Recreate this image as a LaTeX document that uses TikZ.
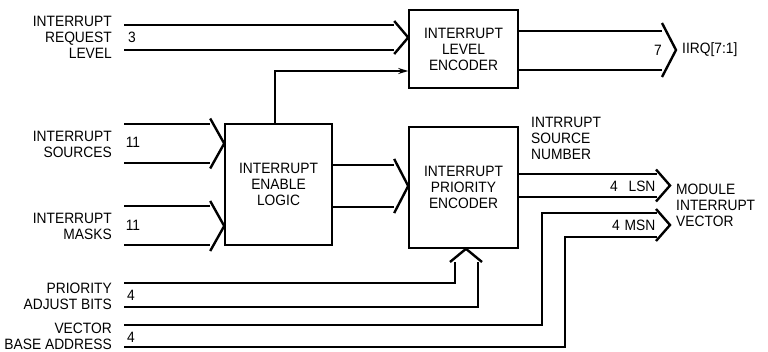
\documentclass[tikz,border=0pt]{standalone}
\usepackage{fontspec}
\setmainfont{Liberation Sans}[FakeStretch=0.92]
\usetikzlibrary{calc,arrows.meta}

\tikzset{
  blk/.style={draw, line width=1.6pt, align=center, inner sep=0pt},
  bus/.style={line width=1.3pt},
  chev/.style={line width=2.4pt, line join=miter},
  lbl/.style={align=right, anchor=east, inner sep=0pt},
  rlbl/.style={align=left, anchor=west, inner sep=0pt},
  pics/busin/.style={code={\draw[chev] (-14,-#1) -- (0,0) -- (-14,#1);}},
}

\begin{document}
\begin{tikzpicture}[x=1pt,y=-1pt,font=\fontsize{15}{16}\selectfont]
  \useasboundingbox (0,0) rectangle (768,351);

  % blocks
  \node[blk, minimum width=109pt, minimum height=78pt] (lvl) at (463.5,49) {INTERRUPT\\LEVEL\\ENCODER};
  \node[blk, minimum width=107pt, minimum height=121pt] (enb) at (278.5,184.5) {INTERRUPT\\ENABLE\\LOGIC};
  \node[blk, minimum width=109pt, minimum height=121pt] (pri) at (463.5,187.5) {INTERRUPT\\PRIORITY\\ENCODER};

  % input names
  \node[lbl] (irl) at (112,37) {INTERRUPT\\REQUEST\\LEVEL};
  \node[lbl] (isrc) at (112,144) {INTERRUPT\\SOURCES};
  \node[lbl] (imsk) at (112,226) {INTERRUPT\\MASKS};
  \node[lbl] (padj) at (112,296) {PRIORITY\\ADJUST BITS};
  \node[lbl] (vba) at (112,336) {VECTOR\\BASE ADDRESS};

  % request level bus
  \draw[bus] (124,25) -- (394,25);
  \draw[bus] (124,50) -- (394,50);
  \pic at (lvl.west |- 0,37.5) {busin=16.5};
  \node (w3) at (132,37) {3};

  % sources and masks
  \draw[bus] (124,124) -- (210,124);
  \draw[bus] (124,163) -- (210,163);
  \pic at (enb.west |- 0,143.5) {busin=25};
  \node (w11a) at (133,142) {11};
  \draw[bus] (124,206) -- (210,206);
  \draw[bus] (124,245) -- (210,245);
  \pic at (enb.west |- 0,226) {busin=25};
  \node (w11b) at (133,225) {11};

  % enable logic to priority encoder
  \draw[bus] (enb.east |- 0,165) -- (394,165);
  \draw[bus] (enb.east |- 0,207) -- (394,207);
  \pic at (pri.west |- 0,186) {busin=27};

  % enable logic to level encoder
  \draw[bus, -{Stealth[length=10pt,width=6pt]}] (275,0 |- enb.north) -- (275,71) -- (lvl.west |- 0,71);

  % level encoder output
  \draw[bus] (lvl.east |- 0,31) -- (662,31);
  \draw[bus] (lvl.east |- 0,70) -- (662,70);
  \pic at (676,50) {busin=27};
  \node (w7) at (658,50) {7};
  \node[rlbl] (irq) at (682,50) {IIRQ[7:1]};

  % source number
  \node[rlbl] (isn) at (531,138) {INTRRUPT\\SOURCE\\NUMBER};
  \draw[bus] (pri.east |- 0,174) -- (657,174);
  \draw[bus] (pri.east |- 0,197) -- (657,197);
  \pic at (670,185.5) {busin=16};
  \node (w4l) at (614,186) {4};
  \node (lsn) at (642,186) {LSN};

  % priority adjust bits
  \draw[bus] (124,283) -- (455,283) -- (455,262);
  \draw[bus] (124,307) -- (478,307) -- (478,262);
  \draw[chev] (450,262) -- (466,0 |- pri.south) -- (482,262);
  \node (w4p) at (131,295) {4};

  % vector base address
  \draw[bus] (124,325) -- (542,325) -- (542,213) -- (657,213);
  \draw[bus] (124,347) -- (565,347) -- (565,237) -- (657,237);
  \pic at (670,225) {busin=16};
  \node (w4v) at (131,337) {4};
  \node (w4m) at (616,225) {4};
  \node (msn) at (640,225) {MSN};

  \node[rlbl] (miv) at (676,205) {MODULE\\INTERRUPT\\VECTOR};
\end{tikzpicture}
\end{document}
